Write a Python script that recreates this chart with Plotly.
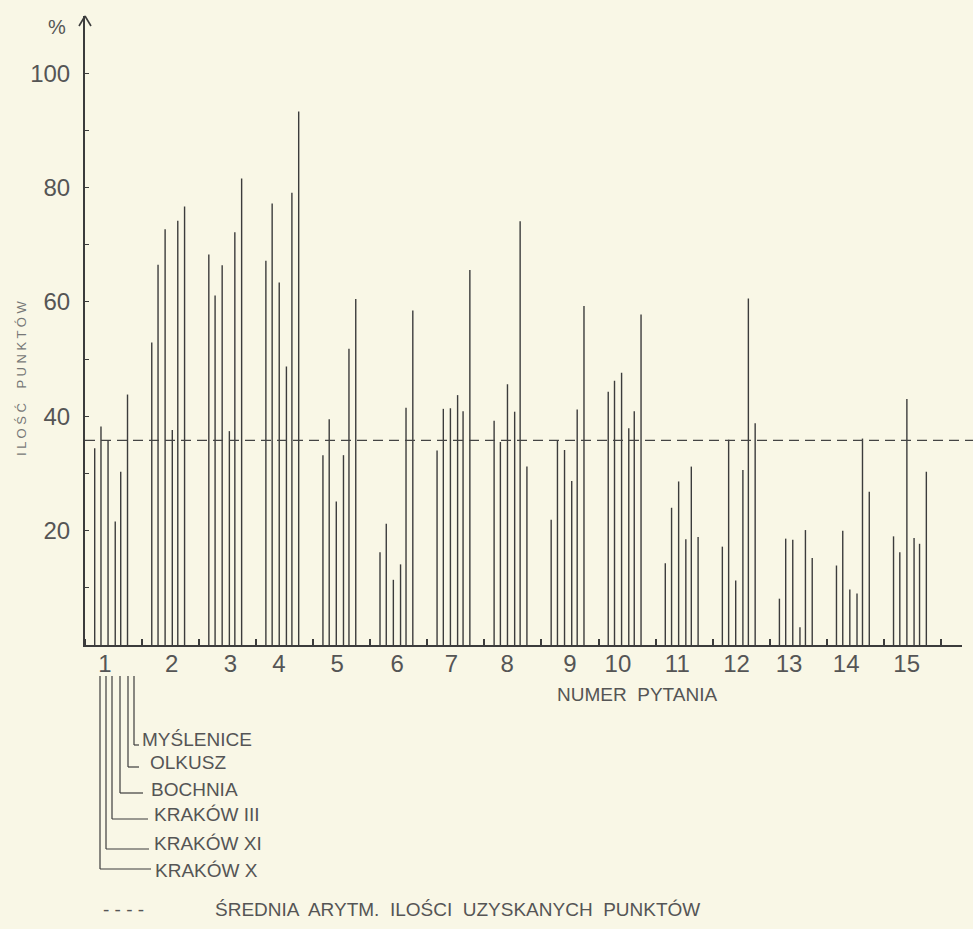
import plotly.graph_objects as go

# ---------------- data ----------------
groups = list(range(1, 16))
tick_labels = [str(g) for g in groups]
series_names = ["KRAKÓW X", "KRAKÓW XI", "KRAKÓW III", "BOCHNIA", "OLKUSZ", "MYŚLENICE"]

krakow_x   = [34.4, 52.9, 68.3, 67.2, 33.2, 16.2, 34.0, 39.2, 21.9, 44.3, 14.3, 17.2, 8.1, 13.9, 19.0]
krakow_xi  = [38.2, 66.5, 61.1, 77.2, 39.5, 21.2, 41.3, 35.5, 35.8, 46.2, 24.0, 35.9, 18.6, 20.0, 16.2]
krakow_iii = [35.7, 72.7, 66.4, 63.4, 25.1, 11.4, 41.4, 45.6, 34.1, 47.6, 28.6, 11.3, 18.4, 9.7, 43.0]
bochnia    = [21.6, 37.6, 37.4, 48.7, 33.2, 14.1, 43.7, 40.8, 28.7, 37.9, 18.5, 30.6, 3.1, 9.0, 18.7]
olkusz     = [30.3, 74.2, 72.2, 79.1, 51.8, 41.5, 40.9, 74.1, 41.2, 40.9, 31.2, 60.6, 20.1, 36.1, 17.7]
myslenice  = [43.8, 76.7, 81.6, 93.3, 60.5, 58.5, 65.6, 31.2, 59.3, 57.8, 18.9, 38.8, 15.2, 26.8, 30.3]
mean_value = 35.8

y_tick_vals = [10, 20, 30, 40, 50, 60, 70, 80, 90, 100]
y_tick_text = ["", "20", "", "40", "", "60", "", "80", "", "100"]

series_values = [krakow_x, krakow_xi, krakow_iii, bochnia, olkusz, myslenice]

# ---------------- style / layout ----------------
W, H = 973, 929
L, R, T, B = 85, 11, 16, 284
pw, ph = W - L - R, H - T - B
BG = "#f9f7e6"
INK = "#3c3c3c"
TXT = "#555555"
FONT = "Liberation Sans"

bar_offsets = [-0.33, -0.22, -0.096, 0.03, 0.126, 0.245]
label_pos = [0.85, 2.02, 3.05, 3.9, 4.92, 5.97, 6.92, 7.9, 9.0, 9.84, 10.88, 11.92, 12.84, 13.84, 14.9]
x_range = [0.5, 15.87]
y_range = [0, 110]


def pxx(x):
    return (x - L) / pw


def pxy(y):
    return (H - B - y) / ph


fig = go.Figure()

for name, vals, off in zip(series_names, series_values, bar_offsets):
    xs, ys = [], []
    for g, v in zip(groups, vals):
        xs += [g + off, g + off, None]
        ys += [0, v, None]
    fig.add_trace(go.Scatter(x=xs, y=ys, mode="lines", name=name,
                             line=dict(color=INK, width=1.4),
                             showlegend=False, hoverinfo="skip"))

shapes = []
# mean dashed line, extended to right edge
shapes.append(dict(type="line", xref="paper", yref="y", x0=0, x1=pxx(W), y0=mean_value, y1=mean_value,
                   line=dict(color="#444444", width=1.3, dash="10px,6px")))
# arrow head on y axis
shapes.append(dict(type="line", xref="paper", yref="paper", x0=pxx(79), y0=pxy(26), x1=pxx(85), y1=pxy(16),
                   line=dict(color=INK, width=1.6)))
shapes.append(dict(type="line", xref="paper", yref="paper", x0=pxx(91), y0=pxy(26), x1=pxx(85), y1=pxy(16),
                   line=dict(color=INK, width=1.6)))

# legend brackets: (vertical x, bottom y, horizontal end x, label x, label y)
legend_geom = [
    (100, 869, 151, 153, 870),
    (106, 849, 149, 152, 843),
    (112, 819, 148, 152, 815),
    (120, 793, 143, 149, 789),
    (128, 767, 139, 148, 762),
    (134, 745, 139, 140, 739),
]
annotations = []
for name, (vx, vb, hx, lx, ly) in zip(series_names, legend_geom):
    shapes.append(dict(type="line", xref="paper", yref="paper", x0=pxx(vx), x1=pxx(vx),
                       y0=pxy(676), y1=pxy(vb), line=dict(color=INK, width=1.2)))
    shapes.append(dict(type="line", xref="paper", yref="paper", x0=pxx(vx), x1=pxx(hx),
                       y0=pxy(vb), y1=pxy(vb), line=dict(color=INK, width=1.2)))
    annotations.append(dict(text=name, xref="paper", yref="paper", x=pxx(lx), y=pxy(ly),
                            xanchor="left", yanchor="middle", showarrow=False,
                            font=dict(family=FONT, size=19, color=TXT)))

annotations += [
    dict(text="%", xref="paper", yref="paper", x=pxx(57), y=pxy(27), xanchor="center", yanchor="middle",
         showarrow=False, font=dict(family=FONT, size=20, color=TXT)),
    dict(text="I L O Ś Ć    P U N K T Ó W", xref="paper", yref="paper", x=pxx(21), y=pxy(378),
         xanchor="center", yanchor="middle", textangle=-90, showarrow=False,
         font=dict(family=FONT, size=13, color="#777777")),
    dict(text="NUMER  PYTANIA", xref="paper", yref="paper", x=pxx(555), y=pxy(694),
         xanchor="left", yanchor="middle", showarrow=False,
         font=dict(family=FONT, size=19, color=TXT)),
    dict(text="- - - -", xref="paper", yref="paper", x=pxx(101), y=pxy(909),
         xanchor="left", yanchor="middle", showarrow=False,
         font=dict(family=FONT, size=19, color=TXT)),
    dict(text="ŚREDNIA  ARYTM.  ILOŚCI  UZYSKANYCH  PUNKTÓW", xref="paper", yref="paper",
         x=pxx(213), y=pxy(909), xanchor="left", yanchor="middle", showarrow=False,
         font=dict(family=FONT, size=19, color=TXT)),
]

fig.update_layout(
    width=W, height=H,
    margin=dict(l=L, r=R, t=T, b=B, pad=0),
    paper_bgcolor=BG, plot_bgcolor=BG,
    shapes=shapes, annotations=annotations,
    xaxis=dict(range=x_range, showgrid=False, zeroline=False,
               showline=True, linecolor=INK, linewidth=2,
               tickmode="array", tickvals=label_pos, ticktext=tick_labels,
               ticks="", ticklabelstandoff=-4,
               tickfont=dict(family=FONT, size=24, color=TXT),
               minor=dict(ticks="inside", tick0=0.5, dtick=1, ticklen=6, tickwidth=1.5, tickcolor=INK)),
    yaxis=dict(range=y_range, showgrid=False, zeroline=False,
               showline=True, linecolor=INK, linewidth=2,
               tickmode="array", tickvals=y_tick_vals, ticktext=y_tick_text,
               ticks="inside", ticklen=4, tickwidth=1.2, tickcolor=INK,
               ticklabelstandoff=8,
               tickfont=dict(family=FONT, size=24, color=TXT)),
)

fig.write_html("out.html")
